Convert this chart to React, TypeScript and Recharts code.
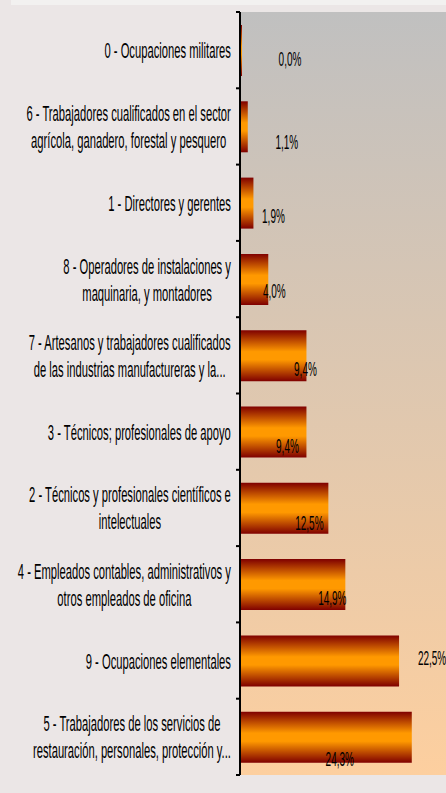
import { BarChart, Bar, XAxis, YAxis, CartesianGrid } from "recharts";

const categories = [
  "0 - Ocupaciones militares",
  "6 - Trabajadores cualificados en el sector\nagrícola, ganadero, forestal y pesquero",
  "1 - Directores y gerentes",
  "8 - Operadores de instalaciones y\nmaquinaria, y montadores",
  "7 - Artesanos y trabajadores cualificados\nde las industrias manufactureras y la...",
  "3 - Técnicos; profesionales de apoyo",
  "2 - Técnicos y profesionales científicos e\nintelectuales",
  "4 - Empleados contables, administrativos y\notros empleados de oficina",
  "9 - Ocupaciones elementales",
  "5 - Trabajadores de los servicios de\nrestauración, personales, protección y...",
];

const shares = [0.0, 1.1, 1.9, 4.0, 9.4, 9.4, 12.5, 14.9, 22.5, 24.3];

// hand-placed value labels in the original: [dx from bar end, dy from bar centre]
const labelNudge = [
  [48, 15], [39, 22], [20, 20], [6, 19], [-1, 20],
  [-19, 21], [-19, 22], [-13, 20], [33, 4], [-72, 29],
];

const data = categories.map((name, i) => ({ name, value: shares[i] }));

const W = 446;
const H = 793;
const TOP = 12;
const BOTTOM = 18;
const AXIS_W = 240;
const BAND = (H - TOP - BOTTOM) / categories.length;
const FONT = "'Liberation Sans', Arial, sans-serif";

let ctx: CanvasRenderingContext2D | null = null;
function measure(s: string, size: number): number {
  if (!ctx) ctx = document.createElement("canvas").getContext("2d");
  if (!ctx) return s.length * size * 0.5;
  ctx.font = `${size}px ${FONT}`;
  return ctx.measureText(s).width;
}

const CategoryTick = (props: any) => {
  const { y, payload, index } = props;
  const lines = String(payload.value).split("\n");
  const size = 22;
  const widest = Math.max(...lines.map((l) => measure(l, size)));
  const right = AXIS_W - 9;
  const lh = 27;
  return (
    <g>
      <line x1={AXIS_W - 4} x2={AXIS_W} y1={y - BAND / 2} y2={y - BAND / 2} stroke="#000" strokeWidth={2} />
      {index === categories.length - 1 && (
        <line x1={AXIS_W - 4} x2={AXIS_W} y1={y + BAND / 2} y2={y + BAND / 2} stroke="#000" strokeWidth={2} />
      )}
      {lines.map((l, i) => (
        <g key={i} transform={`translate(${right}, ${y + 8 + (i - (lines.length - 1) / 2) * lh}) scale(0.51, 1)`}>
          <text x={-widest / 2} y={0} textAnchor="middle" fontSize={size} fontFamily={FONT} fill="#000">
            {l}
          </text>
        </g>
      ))}
    </g>
  );
};

const ValueLabel = (props: any) => {
  const { x, y, width, height, value, index } = props;
  const [dx, dy] = labelNudge[index] ?? [0, 0];
  const cx = x + width + dx;
  const cy = y + height / 2 + dy;
  return (
    <g transform={`translate(${cx}, ${cy}) scale(0.5, 1)`}>
      <text x={0} y={0} textAnchor="middle" fontSize={20} fontFamily={FONT} fill="#000">
        {Number(value).toFixed(1).replace(".", ",") + "%"}
      </text>
    </g>
  );
};

export default function App() {
  return (
    <div style={{ position: "absolute", left: 0, top: 0, width: W, height: H, background: "#ebe6e6", overflow: "hidden" }}>
      <div style={{ position: "absolute", left: 11, top: 0, width: W - 11, height: 5, background: "#f2f1f0" }} />
      <BarChart
        width={W}
        height={H}
        data={data}
        layout="vertical"
        margin={{ top: TOP, right: 0, bottom: BOTTOM, left: 0 }}
      >
        <defs>
          <linearGradient id="plotBg" x1="0" y1="0" x2="0" y2="1">
            <stop offset="0" stopColor="#c0c0c0" />
            <stop offset="1" stopColor="#fdcf9f" />
          </linearGradient>
          <linearGradient id="barFill" x1="0" y1="0" x2="0" y2="1">
            <stop offset="0" stopColor="#7f0000" />
            <stop offset="0.42" stopColor="#ff9900" />
            <stop offset="0.58" stopColor="#ff9900" />
            <stop offset="1" stopColor="#7f0000" />
          </linearGradient>
        </defs>
        <CartesianGrid horizontal={false} vertical={false} fill="url(#plotBg)" />
        <XAxis type="number" domain={[0, 29.14]} hide />
        <YAxis
          type="category"
          dataKey="name"
          width={AXIS_W}
          interval={0}
          tickLine={false}
          axisLine={{ stroke: "#000", strokeWidth: 2 }}
          tick={<CategoryTick />}
        />
        <Bar
          dataKey="value"
          fill="url(#barFill)"
          barSize={51}
          minPointSize={2}
          isAnimationActive={false}
          label={<ValueLabel />}
        />
      </BarChart>
    </div>
  );
}
